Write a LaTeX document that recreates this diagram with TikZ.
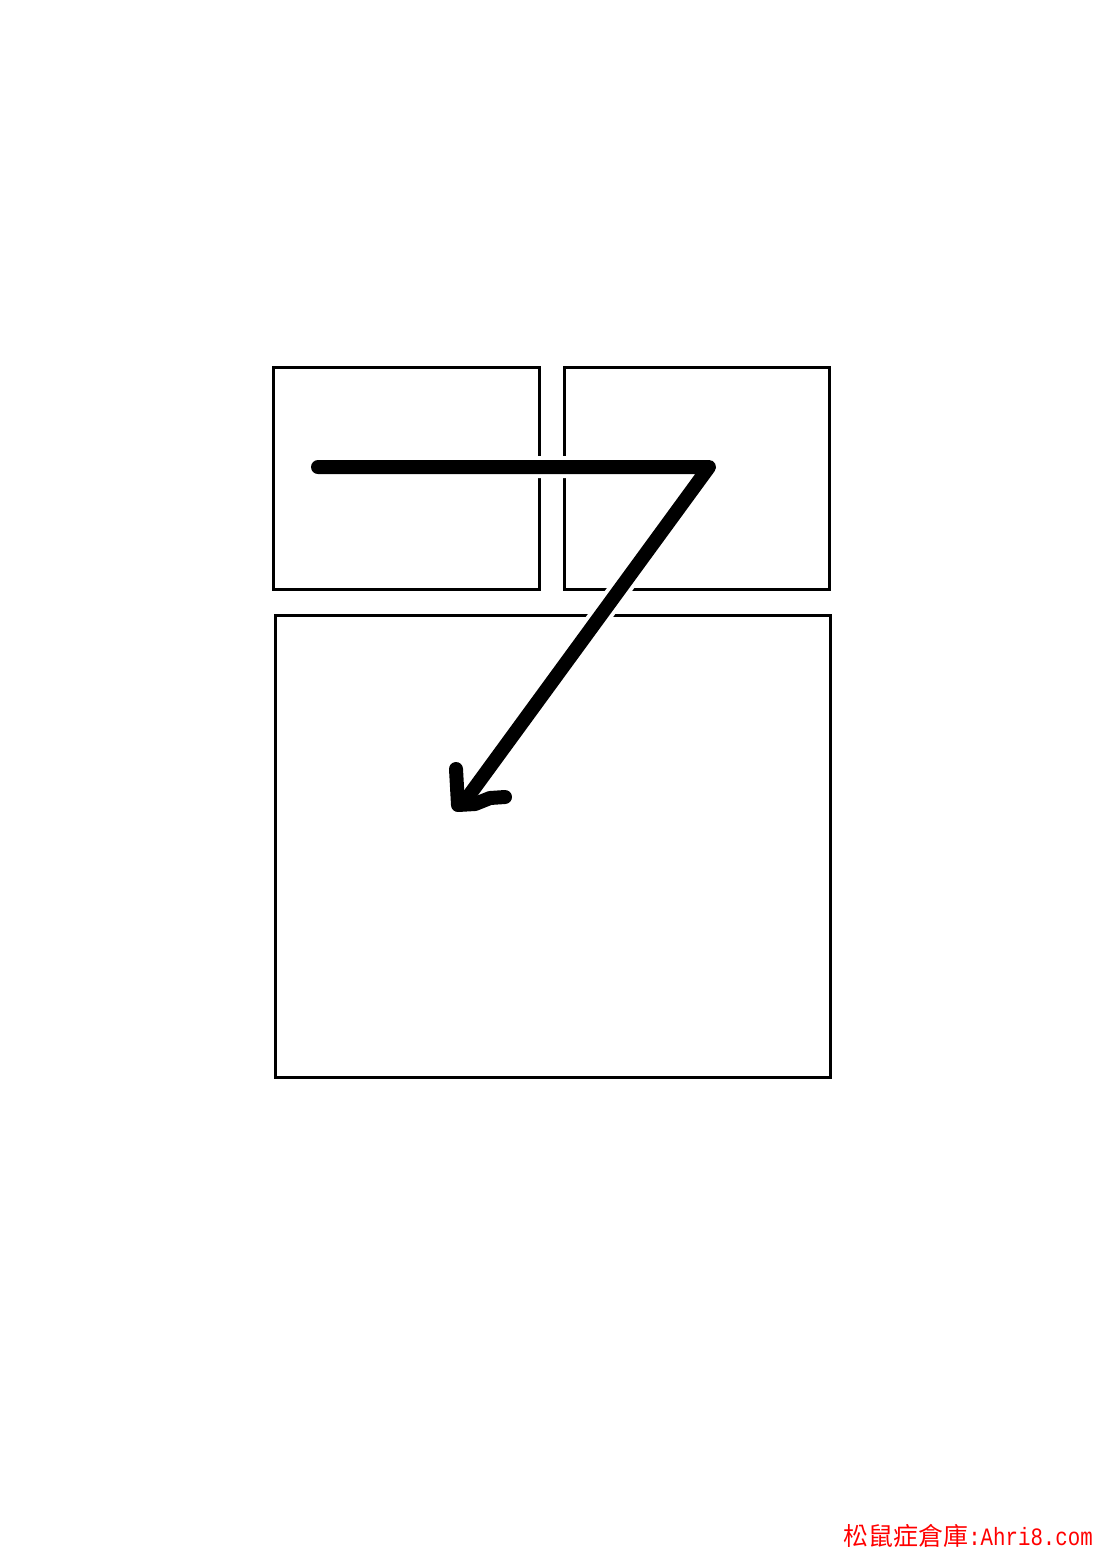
\documentclass[tikz,border=0pt]{standalone}
\usepackage{fontspec}
\newfontfamily\latmono[FakeStretch=0.83]{Liberation Mono}
\newfontfamily\cjk{Noto Sans CJK TC}
\usetikzlibrary{positioning}
\tikzset{box/.style={line width=3pt},
  stroke/.style={line width=14pt,line cap=round,line join=round},
  halo/.style={stroke,white,line width=22pt}}

\begin{document}
\begin{tikzpicture}[x=1pt,y=-1pt]
  \useasboundingbox (0,0) rectangle (1100,1556);

  \draw [box] (273,367) rectangle (539,589);
  \draw [box] (564,367) rectangle (829,589);
  \draw [box] (275,615) rectangle (830,1077);


  \draw [halo] (318,467) -- (709,467) -- (465,801);
  \draw [stroke] (318,467) -- (709,467) -- (465,801);


  \draw [stroke] (456,769) -- (458,805) -- (475,804) -- (490,798) -- (505,797);



  \node [anchor=south east,inner sep=0pt,text=red] (mark) at (1093,1548)
    {\fontsize{25}{25}\selectfont{\cjk 松鼠症倉庫}{\latmono :Ahri8.com}};

\end{tikzpicture}
\end{document}
